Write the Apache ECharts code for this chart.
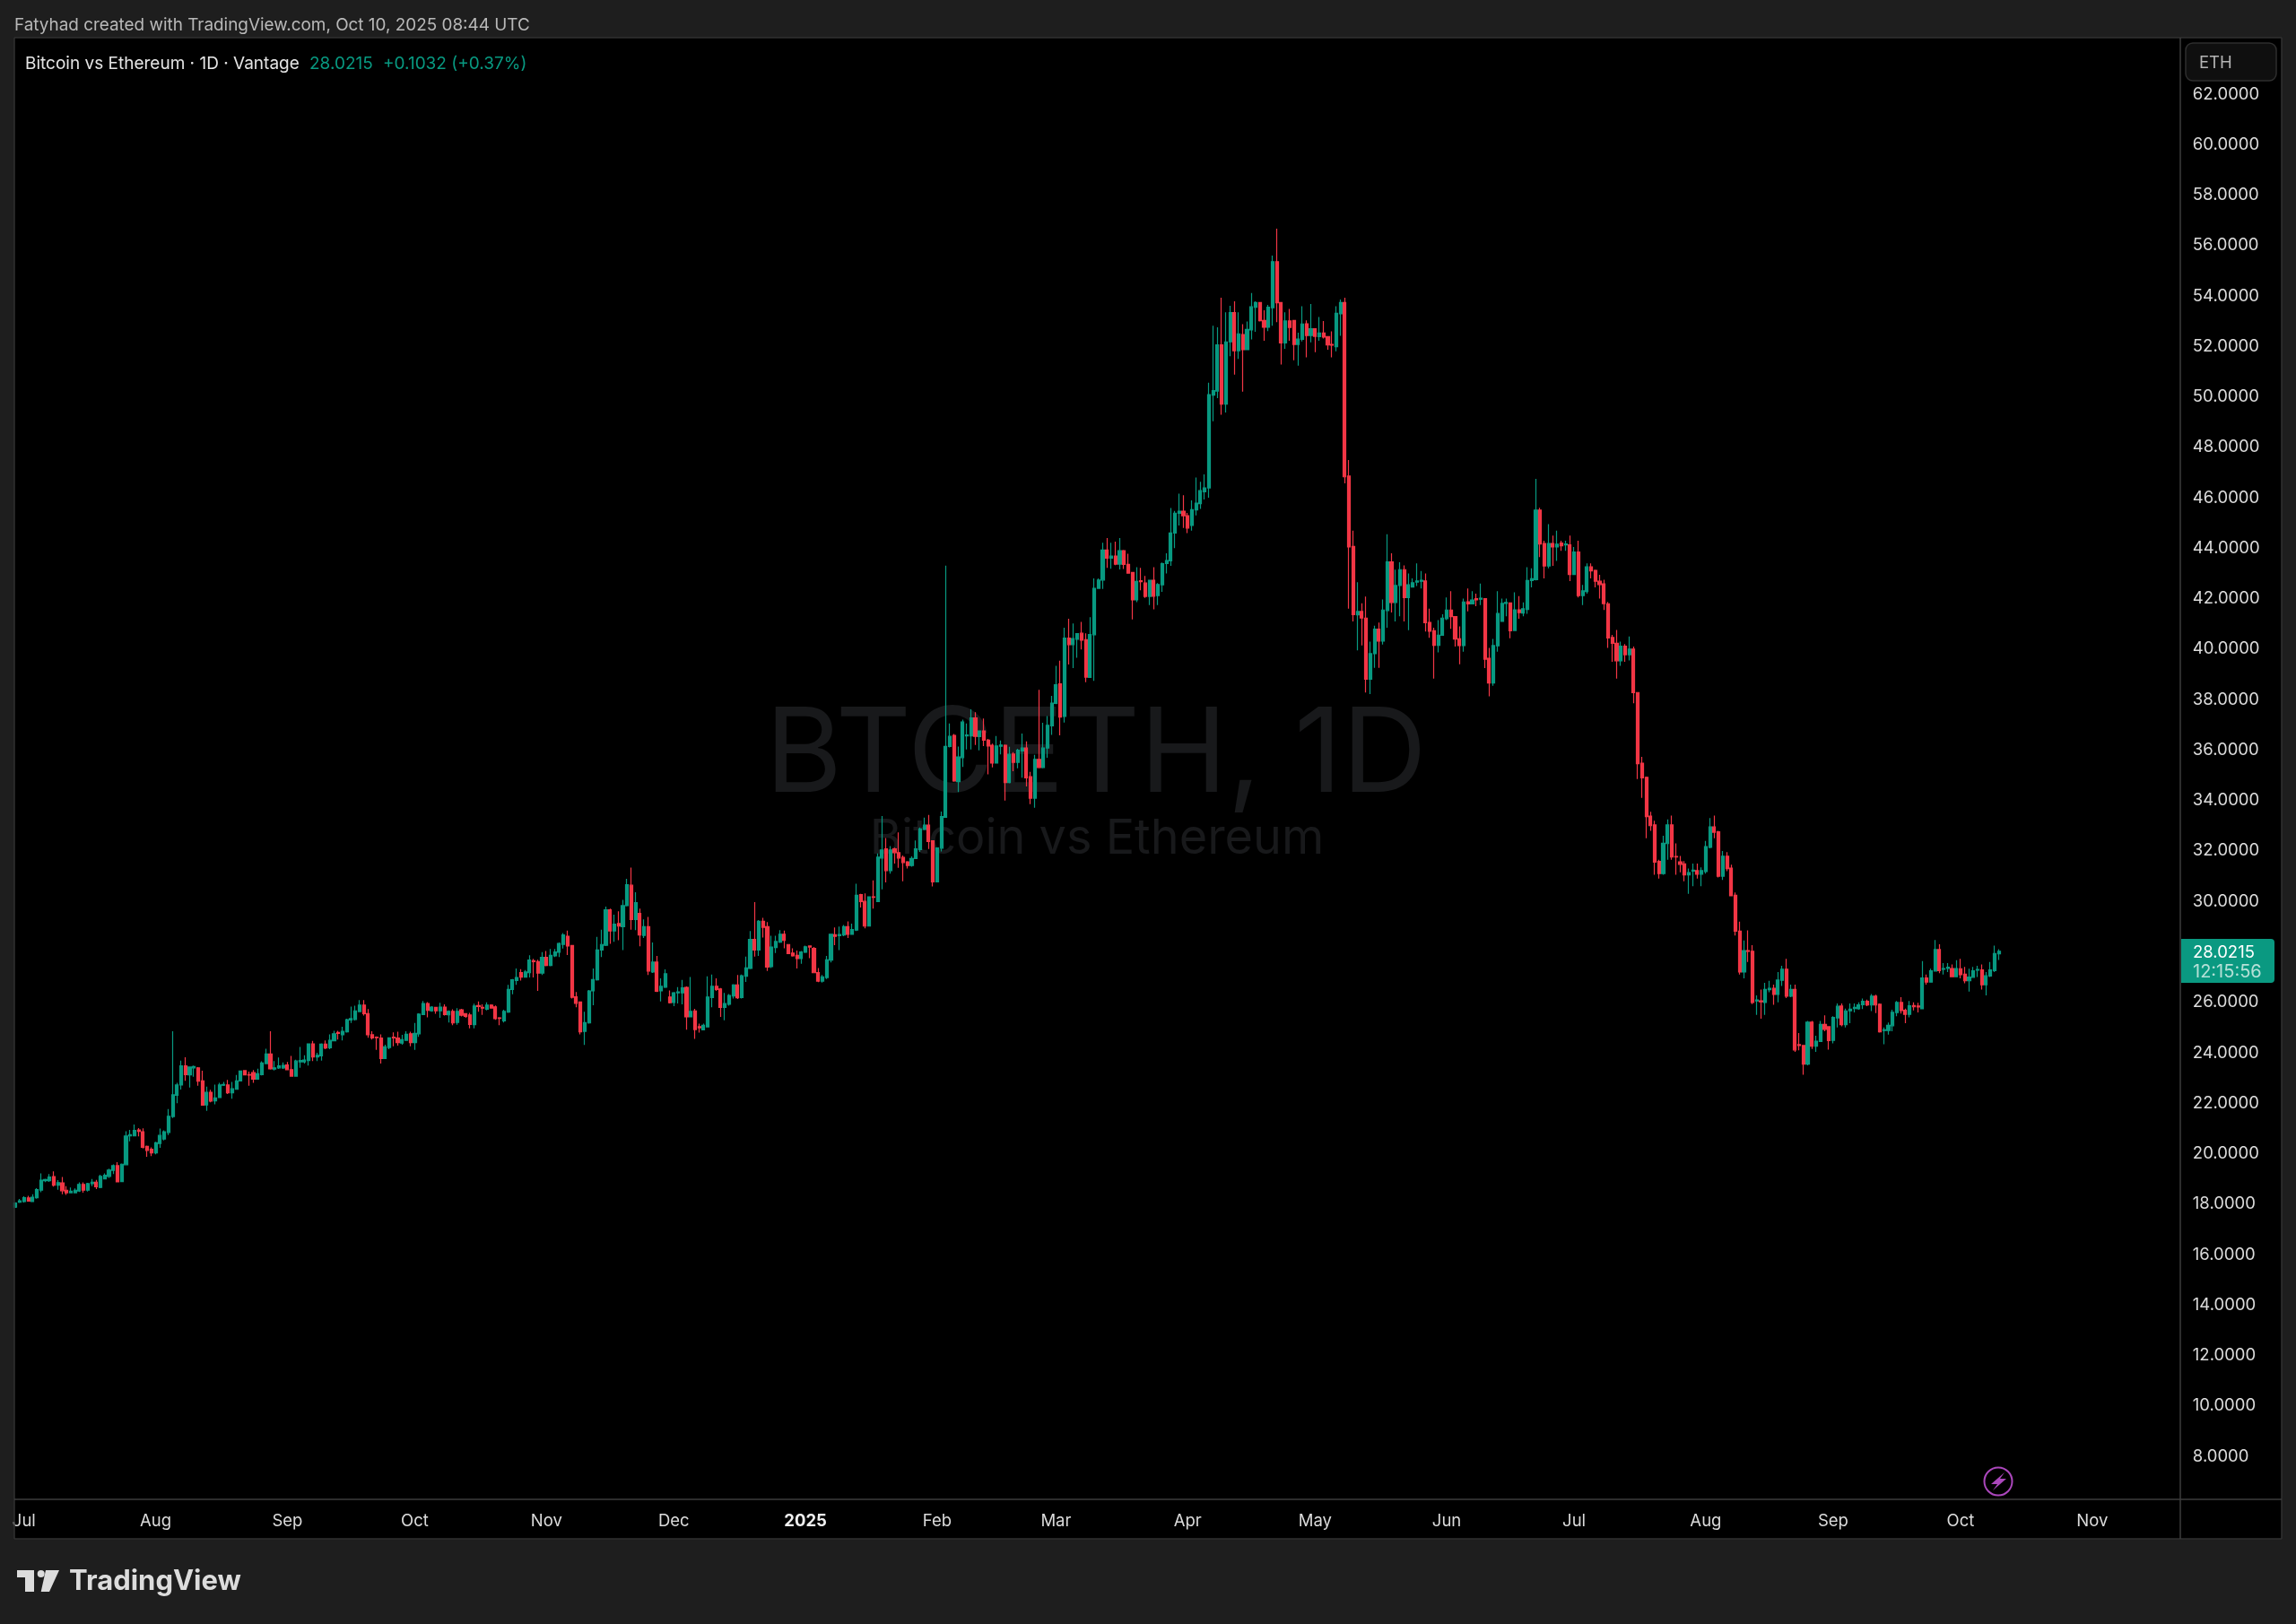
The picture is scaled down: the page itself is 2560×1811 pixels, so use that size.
<!DOCTYPE html>
<html><head><meta charset="utf-8">
<style>html,body{margin:0;padding:0;background:#1e1e1e}#c{width:2560px;height:1811px}</style>
<script src="https://cdn.jsdelivr.net/npm/echarts@6/dist/echarts.min.js"></script>
</head><body><div id="c"></div>
<script>
// Each candle: [open, close, low, high]
const candles2024Summer = [
[17.88,18.04,17.85,18.07],[18.07,18.13,18.04,18.2],[18.1,18.25,18.06,18.31],[18.24,18.12,18.1,18.33],[18.1,18.27,18.08,18.39],[18.25,18.57,18.21,18.63],[18.55,18.95,18.47,19.22],[18.93,18.97,18.87,19.0],[18.93,19.07,18.88,19.19],[19.09,18.75,18.69,19.3],
[18.75,18.85,18.57,18.95],[18.84,18.53,18.39,19.07],[18.55,18.45,18.36,18.71],[18.45,18.51,18.43,18.66],[18.45,18.55,18.43,18.62],[18.52,18.78,18.48,18.86],[18.78,18.55,18.45,18.86],[18.55,18.81,18.5,18.84],[18.81,18.87,18.71,18.99],[18.87,18.69,18.59,18.96],
[18.66,19.1,18.63,19.16],[19.0,19.14,18.99,19.22],[19.1,19.35,19.04,19.4],[19.34,19.52,19.19,19.57],[19.52,18.88,18.86,19.66],[18.89,19.58,18.87,19.61],[19.56,20.7,19.54,20.89],[20.7,20.75,20.49,20.94],[20.7,20.92,20.68,21.15],[20.94,20.88,20.68,21.01],
[20.87,20.25,20.2,21.0],[20.29,20.13,19.87,20.32],[20.17,20.03,19.9,20.25],[20.03,20.43,19.97,20.47],[20.4,20.72,20.23,20.99],[20.58,20.87,20.52,20.92],[20.84,21.48,20.74,21.77],[21.47,22.33,21.41,24.85],[22.31,22.72,22.0,22.81],[22.72,23.48,22.54,23.69],
[23.48,23.13,22.89,23.82],[23.12,23.43,22.62,23.45],[23.4,23.45,23.05,23.49],[23.4,22.87,22.69,23.43],[22.88,21.92,21.91,23.29],[21.93,22.43,21.7,22.66],[22.43,22.08,22.03,22.53],[22.09,22.21,21.95,22.74],[22.22,22.72,22.21,22.81],[22.71,22.74,22.68,22.84],
[22.72,22.41,22.36,22.92],[22.41,22.57,22.18,22.84],[22.55,22.88,22.53,23.12],[22.88,23.27,22.86,23.3],[23.29,23.12,23.1,23.31],[23.13,23.11,22.69,23.25],[23.21,22.95,22.81,23.31],[22.95,23.17,22.95,23.37],[23.13,23.59,23.1,23.66],[23.57,23.95,23.55,24.16],
[23.95,23.36,23.33,24.85],[23.35,23.4,23.3,23.67],[23.4,23.48,23.36,23.81],[23.4,23.5,23.36,23.62],[23.51,23.33,23.31,23.63],[23.33,23.07,23.07,23.87],[23.07,23.67,23.07,23.72],[23.64,23.69,23.4,24.23],[23.64,23.71,23.57,23.9],[23.69,24.35,23.49,24.37],
[24.35,23.83,23.67,24.47],[23.83,23.9,23.67,24.0],[23.88,24.34,23.69,24.37],[24.34,24.19,24.14,24.49],[24.2,24.49,24.14,24.73],[24.47,24.75,24.45,24.87],[24.8,24.77,24.52,24.87],[24.71,24.85,24.49,25.03],[24.83,25.31,24.8,25.35],[25.3,25.35,25.18,25.83],
[25.32,25.66,25.28,25.86],[25.63,25.89,25.61,26.09],[25.89,25.55,25.47,26.09],[25.55,24.71,24.59,25.73],[24.71,24.59,24.52,24.85],[24.62,24.6,24.11,24.65],[24.58,23.77,23.57,24.73],[23.77,24.23,23.76,24.32],[24.21,24.59,24.14,24.61],[24.62,24.59,24.26,24.81],
[24.58,24.4,24.28,24.83],[24.38,24.52,24.32,24.71],[24.49,24.73,24.47,24.85],[24.75,24.4,24.26,24.83],[24.4,24.77,24.11,25.18],[24.75,25.53,24.63,25.56],[25.51,25.95,25.49,26.05],[25.95,25.68,25.4,26.01],[25.66,25.81,25.62,25.85],[25.8,25.66,25.54,25.82]
];
const candles2024Autumn = [
[25.66,25.81,25.38,25.98],[25.81,25.51,25.47,25.92],[25.5,25.64,25.2,25.68],[25.64,25.18,25.09,25.72],[25.2,25.64,25.11,25.77],[25.7,25.49,25.44,25.74],[25.55,25.44,25.38,25.56],[25.5,25.12,24.97,25.58],[25.11,25.85,24.97,25.94],[25.87,25.83,25.62,26.03],
[25.8,25.77,25.5,25.92],[25.73,25.89,25.68,26.0],[25.89,25.77,25.75,25.92],[25.82,25.35,25.3,25.87],[25.38,25.36,25.09,25.41],[25.26,25.64,25.2,25.7],[25.61,26.51,25.58,26.69],[26.51,26.89,26.32,26.92],[26.86,26.98,26.69,27.34],[27.18,27.0,26.86,27.31],
[27.0,27.2,26.98,27.28],[27.17,27.67,26.98,27.86],[27.65,27.61,26.98,27.72],[27.61,27.16,26.45,27.69],[27.16,27.78,27.08,27.99],[27.78,27.46,27.43,28.03],[27.46,27.86,27.43,28.11],[27.84,27.99,27.79,28.11],[27.98,28.33,27.79,28.37],[28.29,28.67,28.13,28.74],
[28.62,28.23,27.87,28.84],[28.25,26.2,26.15,28.25],[26.22,25.96,25.8,26.41],[26.01,24.83,24.73,26.03],[24.85,25.19,24.31,25.62],[25.18,26.45,25.15,26.49],[26.45,26.9,25.88,27.34],[26.89,28.07,26.86,28.59],[28.07,28.29,27.79,28.88],[28.26,29.66,28.23,29.79],
[29.66,28.83,28.32,29.71],[28.83,29.1,28.4,29.47],[29.12,29.02,28.46,29.61],[29.0,29.83,28.07,30.06],[29.83,30.66,29.8,30.89],[30.64,29.28,28.88,31.34],[29.28,29.95,28.86,30.36],[29.52,28.67,28.22,29.71],[28.65,29.0,28.55,29.29],[29.0,27.24,27.08,29.38],
[27.2,27.59,27.16,28.37],[27.59,26.44,26.41,27.84],[26.45,26.63,26.03,26.95],[26.6,27.13,26.57,27.3],[26.21,25.98,25.95,26.47],[25.99,26.38,25.85,26.41],[26.37,26.41,25.95,26.6],[26.37,26.57,25.92,26.89],[26.59,25.42,24.91,26.63],[25.42,25.64,25.42,27.0],
[25.66,24.92,24.55,25.74],[25.03,24.99,24.8,25.15],[24.91,25.09,24.91,25.15],[25.02,26.21,25.0,27.03],[26.19,26.63,25.8,27.1],[26.63,26.51,26.45,26.95],[26.53,25.8,25.42,26.57],[25.8,25.95,25.29,26.37],[25.92,26.27,25.86,26.33],[26.25,26.69,26.15,26.72],
[26.69,26.18,26.13,27.08],[26.19,27.05,26.15,27.1],[27.03,27.36,26.81,27.81],[27.34,28.49,27.31,28.82],[28.49,28.07,27.81,29.97],[28.07,29.21,27.84,29.26],[29.21,28.97,28.57,29.35],[29.0,27.4,27.24,29.18],[27.41,28.19,27.36,28.64],[28.17,28.41,27.95,28.64],
[28.38,28.7,28.35,28.86],[28.7,28.45,28.14,28.84],[28.29,27.93,27.91,28.31],[27.95,27.84,27.81,28.14],[27.86,27.73,27.34,28.05],[27.73,27.99,27.53,28.03],[27.98,28.2,27.95,28.25],[28.23,28.19,27.75,28.25],[28.14,27.17,27.16,28.19],[27.18,26.84,26.8,27.36],
[26.84,27.01,26.78,27.08],[26.98,27.68,26.92,27.84],[27.67,28.7,27.58,28.72],[28.68,28.61,28.26,28.97],[28.64,28.69,28.07,29.0],[28.67,29.0,28.62,29.06],[29.0,28.69,28.55,29.21],[28.69,28.88,28.68,29.12],[28.86,30.24,28.82,30.7],[30.27,29.99,29.76,30.3],
[30.0,29.02,28.93,30.32],[29.02,30.18,29.0,30.2],[30.18,30.16,29.71,30.83],[29.99,31.75,29.97,31.9]
];
const candles2025Rise = [
[31.72,32.04,30.48,33.38],[32.08,31.22,30.75,32.51],[31.22,32.04,31.1,32.19],[32.08,31.93,31.5,32.13],[31.93,31.72,31.33,32.73],[31.74,31.54,30.8,31.82],[31.57,31.42,31.3,31.6],[31.42,31.7,31.37,31.78],[31.7,32.08,31.68,32.41],[32.05,32.87,31.96,32.93],
[32.85,33.02,32.82,33.32],[33.02,32.37,32.08,33.43],[32.4,30.77,30.59,32.41],[30.77,32.12,30.77,32.13],[32.11,33.36,31.98,33.56],[33.33,36.14,33.32,43.31],[36.14,36.54,36.1,37.05],[36.58,34.77,34.74,36.64],[34.75,35.73,34.33,36.14],[35.7,37.11,35.33,37.2],
[36.56,36.6,36.02,37.05],[36.56,37.27,36.02,37.61],[37.27,36.54,36.2,37.5],[36.53,36.76,35.99,36.76],[36.76,36.39,36.16,37.25],[36.39,36.16,35.04,36.44],[36.19,35.48,35.31,36.25],[35.48,36.16,35.48,36.56],[36.15,36.2,35.83,36.38],[36.19,34.71,34.0,36.22],
[34.71,35.83,34.68,36.13],[35.84,35.51,35.16,35.92],[35.51,35.99,35.28,36.05],[35.96,36.08,34.9,36.65],[36.08,34.9,34.56,36.34],[34.94,34.09,33.85,35.13],[34.09,35.63,33.71,35.81],[35.63,35.31,35.28,38.39],[35.31,36.08,35.28,37.08],[36.08,36.98,35.69,37.35],
[36.96,37.86,36.6,38.15],[37.85,38.59,37.82,39.34],[38.62,37.31,36.58,39.54],[37.33,40.44,37.09,40.85],[40.44,40.18,39.39,41.2],[40.18,40.42,39.25,41.02],[40.39,40.61,39.66,40.63],[40.63,40.35,39.99,41.08],[40.37,38.89,38.69,40.63],[38.88,40.58,38.88,41.27],
[40.57,42.41,38.74,42.8],[42.41,42.74,42.39,42.8],[42.74,43.93,42.39,44.22],[43.93,43.61,43.22,44.4],[43.61,43.69,43.19,44.22],[43.69,43.37,43.33,44.26],[43.37,43.9,43.16,44.4],[43.9,43.36,43.18,43.93],[43.36,43.01,43.0,43.78],[43.04,41.95,41.18,43.06],
[41.95,42.68,41.86,43.25],[42.71,42.67,42.33,43.22],[42.62,42.09,42.03,42.9],[42.09,42.73,41.75,42.74],[42.73,42.1,41.58,43.25],[42.12,42.56,41.75,42.62],[42.55,43.39,42.27,43.43],[43.39,43.51,43.0,43.8],[43.5,44.6,43.3,45.59],[44.6,45.39,44.0,45.48],
[45.38,45.47,44.9,46.16],[45.47,45.29,44.8,46.1],[45.29,44.8,44.6,45.4],[44.9,45.53,44.7,45.9],[45.52,45.79,45.3,46.8],[45.77,46.28,45.56,46.63],[46.24,46.39,45.93,46.93],[46.39,50.09,46.0,50.56],[50.07,50.25,49.03,52.82],[50.23,52.06,49.95,52.76],
[52.06,49.71,49.29,53.93],[49.71,52.18,49.38,53.35],[52.18,53.34,51.61,53.61],[53.34,51.83,50.88,53.79],[51.83,52.5,51.5,53.35],[52.47,51.87,50.21,52.88],[51.87,52.67,51.87,52.99],[52.65,53.57,52.28,54.12],[53.55,53.74,52.58,53.79],[53.74,53.02,52.99,53.76],
[53.03,52.76,52.22,53.43],[52.76,53.55,52.61,53.65],[53.53,55.36,52.82,55.6],[55.36,53.73,52.96,56.67],[53.74,52.14,51.28,53.74],[52.14,53.01,51.9,53.35],[53.01,52.75,52.22,53.49],[53.03,52.08,51.45,53.05],[52.08,52.29,51.24,52.54],[52.28,52.89,52.2,53.59],
[52.9,52.43,51.57,53.03],[52.43,52.7,52.16,53.68],[52.7,52.4,51.77,52.72],[52.39,52.53,52.22,53.17],[52.53,52.37,52.31,53.01],[52.39,52.06,51.87,52.41],[52.08,52.05,51.57,52.6],[51.99,53.31,51.81,53.59],[53.29,53.74,52.42,53.86]
];
const candles2025Fall = [
[53.74,46.83,46.57,53.93],[46.86,44.05,41.6,47.5],[44.07,41.37,41.1,44.7],[41.36,41.49,39.95,42.65],[41.49,41.23,40.15,41.82],[41.23,38.81,38.28,42.08],[38.81,39.82,38.22,40.3],[39.82,40.79,39.26,40.93],[40.79,40.32,39.26,41.05],[40.32,41.55,40.18,41.97],
[41.53,43.46,40.85,44.55],[43.46,41.85,41.45,43.8],[41.85,42.52,41.1,43.15],[42.52,43.15,41.3,43.44],[43.15,42.04,41.1,43.32],[42.04,42.55,40.75,43.0],[42.46,42.63,42.46,42.8],[42.66,42.7,42.5,43.4],[42.69,42.73,42.4,43.1],[42.7,41.05,40.7,43.0],
[41.06,40.71,40.45,41.6],[40.73,40.15,38.83,40.85],[40.15,40.55,39.87,41.15],[40.55,41.23,40.55,41.38],[41.21,41.55,41.15,42.05],[41.55,41.29,40.8,42.3],[41.29,40.4,40.1,41.3],[40.41,40.14,39.4,40.9],[40.14,41.87,39.9,42.0],[41.88,41.79,41.5,42.4],
[41.79,41.95,41.8,42.3],[42.0,41.95,41.7,42.2],[41.98,42.02,41.75,42.6],[42.0,39.6,39.25,42.0],[39.64,38.66,38.13,40.05],[38.66,40.14,38.55,40.4],[40.13,41.41,39.9,42.3],[41.1,41.81,41.1,42.0],[41.81,41.85,41.3,42.0],[41.83,40.73,40.43,41.85],
[40.74,41.56,40.74,42.25],[41.56,41.45,41.2,42.1],[41.43,41.6,41.3,41.85],[41.57,42.72,41.4,43.25],[42.72,42.79,42.45,43.2],[42.75,45.51,42.72,46.75],[45.51,44.17,43.65,45.6],[44.19,43.3,42.8,44.3],[43.3,44.19,43.2,44.95],[44.19,44.05,43.3,44.5],
[44.05,44.16,43.5,44.7],[44.2,44.1,43.9,44.3],[44.13,44.17,43.9,44.3],[44.13,42.96,42.7,44.5],[42.96,43.85,42.96,44.05],[43.85,42.12,42.05,44.3],[42.12,42.31,41.75,42.55],[42.28,43.26,42.2,43.4],[43.26,43.1,42.8,43.4],[43.12,42.69,42.45,43.15],
[42.69,42.56,42.0,42.95],[42.59,41.8,41.55,42.75],[41.8,40.44,40.05,41.87],[40.46,40.23,39.5,40.56],[40.23,39.54,38.83,40.76],[39.54,40.12,39.34,40.3],[40.12,39.78,39.5,40.2],[39.78,40.0,39.55,40.5],[40.0,38.27,37.85,40.1]
];
const candles2025Recent = [
[38.28,35.46,34.85,38.3],[35.48,34.9,34.1,35.73],[34.92,33.36,32.5,34.95],[33.38,33.0,32.8,33.55],[33.03,31.56,31.05,33.2],[31.58,31.1,30.9,31.65],[31.1,32.3,31.05,32.6],[32.29,33.03,31.65,33.25],[33.03,31.76,31.65,33.4],[31.78,31.76,31.05,32.3],
[31.57,31.47,31.15,31.8],[31.49,31.05,30.8,31.6],[31.05,31.14,30.3,31.3],[31.2,31.24,30.6,31.5],[31.22,31.08,30.9,31.5],[31.08,31.22,30.6,31.35],[31.18,32.17,31.1,32.4],[32.14,32.95,32.1,33.3],[32.95,32.74,32.5,33.4],[32.76,31.0,30.95,32.8],
[31.0,31.79,30.85,32.0],[31.79,31.3,31.2,31.95],[31.32,30.22,30.2,31.45],[30.24,28.82,28.65,30.35],[28.82,27.2,27.1,29.2],[27.2,28.05,26.95,28.45],[28.05,28.02,27.6,28.85],[28.02,25.99,25.93,28.26],[26.05,26.09,25.5,26.27],[26.06,26.02,25.35,26.5],
[25.99,26.51,25.5,26.77],[26.5,26.55,26.4,26.85],[26.55,26.31,25.9,26.7],[26.31,26.88,26.0,27.2],[26.87,27.31,26.65,27.45],[27.31,26.24,26.17,27.72],[26.24,26.51,26.2,26.7],[26.51,24.11,24.03,26.7],[24.32,24.29,24.1,24.78],[24.29,23.55,23.13,24.3],
[23.55,25.21,23.5,25.26],[25.21,24.26,24.15,25.26],[24.26,24.46,24.03,24.67],[24.45,25.12,24.45,25.26],[25.12,24.93,24.85,25.48],[25.03,24.48,24.12,25.03],[24.49,25.4,24.37,25.45],[25.38,25.84,25.0,25.95],[25.85,25.11,25.05,25.95],[25.11,25.66,25.0,25.75],
[25.66,25.73,25.17,25.95],[25.75,25.8,25.6,25.95],[25.74,25.9,25.7,26.0],[25.9,26.04,25.73,26.15],[26.04,25.89,25.85,26.1],[25.89,26.24,25.65,26.33],[26.24,25.89,25.57,26.3],[25.92,24.83,24.8,25.95],[24.88,24.91,24.34,25.0],[24.88,25.09,24.72,25.2],
[25.07,25.6,24.85,25.7],[25.59,25.99,25.45,26.05],[25.99,25.67,25.55,26.2],[25.68,25.52,25.17,25.75],[25.52,25.86,25.4,26.05],[25.87,25.82,25.68,26.0],[25.85,25.81,25.6,25.98],[25.74,26.96,25.74,27.63],[26.96,26.8,26.7,27.1],[26.8,27.25,26.8,27.33],
[27.24,28.09,27.22,28.47],[28.09,27.25,27.15,28.3],[27.31,27.34,27.1,27.55],[27.34,27.39,27.2,27.55],[27.34,27.01,27.0,27.5],[27.01,27.34,27.0,27.67],[27.33,27.09,26.95,27.72],[27.11,26.85,26.75,27.4],[26.85,27.0,26.42,27.33],[26.99,27.25,26.99,27.4],
[27.27,27.3,27.0,27.45],[27.28,26.69,26.5,27.5],[26.69,27.05,26.27,27.2],[27.04,27.28,27.0,27.6],[27.25,27.93,27.2,28.25],[27.92,28.02,27.68,28.1]
];
const candles = [].concat(candles2024Summer, candles2024Autumn, candles2025Rise, candles2025Fall, candles2025Recent);

const firstDay = '2024-06-29';
const skippedDay = '2025-08-20';
const totalSlots = 510;
const monthNames = ['2025','Feb','Mar','Apr','May','Jun','Jul','Aug','Sep','Oct','Nov','Dec'];
const categories = [];
for (let d = Date.parse(firstDay + 'T00:00:00Z'); categories.length < totalSlots; d += 864e5) {
  const s = new Date(d).toISOString().slice(0, 10);
  if (s !== skippedDay) categories.push(s);
}
const UI = 'Inter, "Noto Sans", sans-serif';
const UP = '#089981', DOWN = '#f23645', LINE = '#3d3d3d', TXT = '#dbdbdb';

const chart = echarts.init(document.getElementById('c'), null, {renderer:'canvas', width:2560, height:1811});
const gText = (x, y, text, fill, size, extra) => ({type:'text', x, y, z:(extra&&extra.z)||10, silent:true,
  style:Object.assign({text, fill, font:`${(extra&&extra.weight)||400} ${size}px ${UI}`, textVerticalAlign:'middle', textAlign:(extra&&extra.align)||'left'})});
const gLine = (x1,y1,x2,y2,c) => ({type:'line', z:10, silent:true, shape:{x1,y1,x2,y2}, style:{stroke:c||LINE, lineWidth:1.5}});

chart.setOption({
  animation:false,
  backgroundColor:'#1e1e1e',
  grid:{left:15, right:130.15, top:48.74, bottom:130.72, containLabel:false},
  xAxis:{type:'category', data:categories, boundaryGap:true,
    axisLine:{show:false}, axisTick:{show:false}, splitLine:{show:false},
    axisLabel:{margin:7, color:TXT, fontFamily:'Inter', fontSize:18.5,
      interval:(i,v)=>v.slice(8)==='01',
      formatter:v=>{const m=+v.slice(5,7)-1; return m===0?'{b|2025}':monthNames[m];},
      rich:{b:{fontWeight:700,fontFamily:'Inter',fontSize:18.5,color:'#f0f0f0'}}}},
  yAxis:{type:'value', position:'right', min:6, max:64, interval:2, scale:false,
    axisLine:{show:false}, axisTick:{show:false}, splitLine:{show:false},
    axisLabel:{margin:15, color:TXT, fontFamily:'Inter', fontSize:18.5, align:'left', padding:[6,0,0,0],
      formatter:v=>(v===6||v===64)?'':v.toFixed(4)}},
  series:[{type:'candlestick', data:candles, barWidth:3.6, clip:true, z:5, progressive:0,
    itemStyle:{color:UP, color0:DOWN, borderColor:UP, borderColor0:DOWN, borderWidth:1.2}}],
  graphic:{elements:[
    {type:'rect', z:-10, silent:true, shape:{x:16,y:42,width:2528,height:1674}, style:{fill:'#000'}},
    {type:'text', z:-5, silent:true, x:1222, y:844, style:{text:'BTCETH, 1D', fill:'#18191b', font:`400 131px ${UI}`, textAlign:'center', textVerticalAlign:'middle'}},
    {type:'text', z:-5, silent:true, x:1223, y:936, style:{text:'Bitcoin vs Ethereum', fill:'#18191b', font:`400 54px ${UI}`, textAlign:'center', textVerticalAlign:'middle'}},
    gLine(16,42,2544,42,'#303030'), gLine(16,42,16,1716,'#303030'), gLine(2544,42,2544,1716,'#303030'), gLine(16,1716,2544,1716,'#303030'),
    gLine(2431,42,2431,1716), gLine(16,1672,2544,1672),
    gText(16,28,'Fatyhad created with TradingView.com, Oct 10, 2025 08:44 UTC','#b8b8b8',18.9),
    gText(28,71,'Bitcoin vs Ethereum · 1D · Vantage','#e4e4e4',19),
    gText(345,71,'28.0215',UP,19),
    gText(427,71,'+0.1032 (+0.37%)',UP,19),
    {type:'rect', z:10, silent:true, shape:{x:2437,y:48,width:101,height:42,r:8}, style:{fill:'#0f0f0f',stroke:'#2e2e2e',lineWidth:1.5}},
    gText(2452,70,'ETH','#b4b4b4',18.5),
    {type:'rect', z:10, silent:true, shape:{x:2432,y:1047,width:104,height:49,r:[0,4,4,0]}, style:{fill:'#0a9981'}},
    gText(2445,1062,'28.0215','#ffffff',18.5),
    gText(2445,1084,'12:15:56','#b5e0d7',20),
    {type:'circle', z:10, silent:true, shape:{cx:2228,cy:1652,r:15.5}, style:{fill:'none',stroke:'#ab47bc',lineWidth:2}},
    {type:'polygon', z:10, silent:true, shape:{points:[[2235,1642],[2220,1655],[2227,1655],[2222,1662],[2237,1649],[2230,1649]]}, style:{fill:'#ab47bc'}},
    {type:'polygon', z:10, silent:true, shape:{points:[[19,1751],[38,1751],[38,1775],[28,1775],[28,1759],[19,1759]]}, style:{fill:'#dcdcdc'}},
    {type:'circle', z:10, silent:true, shape:{cx:45.7,cy:1755,r:4}, style:{fill:'#dcdcdc'}},
    {type:'polygon', z:10, silent:true, shape:{points:[[51,1751],[66,1751],[55,1775],[45.7,1775]]}, style:{fill:'#dcdcdc'}},
    gText(77,1764,'TradingView','#dcdcdc',31,{weight:700})
  ]}
});
</script></body></html>
